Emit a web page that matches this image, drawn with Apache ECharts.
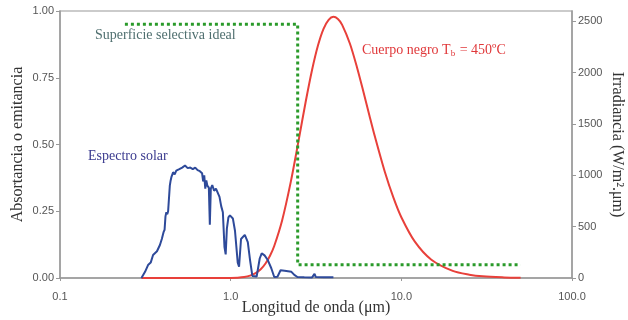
<!DOCTYPE html>
<html>
<head>
<meta charset="utf-8">
<script src="https://cdn.jsdelivr.net/npm/echarts@6/dist/echarts.min.js"></script>
<style>
  html, body { margin: 0; padding: 0; background: #fff; }
  #main { width: 628px; height: 320px; }
</style>
</head>
<body>
<div id="main"></div>
<script>
// selective surface (absortance, left axis)
const selWl = [0.24, 2.47, 2.47, 50];
const selVal = [0.95, 0.95, 0.05, 0.05];

// black body at 450 C (irradiance, right axis)
const bbWl = [0.3, 0.5, 0.8, 1.0, 1.1, 1.2, 1.3, 1.4, 1.5, 1.6, 1.7, 1.8, 2.0, 2.25, 2.5, 2.75, 3.0, 3.25, 3.5, 3.75, 4.0, 4.25, 4.5, 5.0, 5.5, 6.0, 6.5, 7.0, 8.0, 9.0, 10, 12, 15, 20, 25, 30, 40, 50];
const bbVal = [0, 0, 0, 1, 3, 9, 23, 47, 85, 141, 217, 312, 558, 936, 1338, 1714, 2028, 2266, 2427, 2514, 2543, 2522, 2465, 2281, 2050, 1811, 1583, 1377, 1035, 780, 592, 354, 178, 69, 32, 16, 6, 2];

// solar spectrum (irradiance, right axis)
const solarWl = [0.30, 0.315, 0.328, 0.34, 0.351, 0.37, 0.385, 0.395, 0.405, 0.41, 0.415, 0.42, 0.425, 0.43, 0.44, 0.445, 0.45, 0.46, 0.47, 0.48, 0.49, 0.50, 0.52, 0.54, 0.56, 0.58, 0.60, 0.62, 0.64, 0.66, 0.68, 0.69, 0.70, 0.71, 0.72, 0.73, 0.745, 0.755, 0.765, 0.78, 0.80, 0.82, 0.84, 0.86, 0.88, 0.90, 0.92, 0.935, 0.95, 0.97, 0.99, 1.03, 1.06, 1.10, 1.12, 1.15, 1.21, 1.26, 1.30, 1.34, 1.42, 1.48, 1.52, 1.58, 1.65, 1.73, 1.80, 1.88, 1.96, 2.07, 2.27, 2.36, 2.46, 2.7, 3.0, 3.05, 3.1, 3.15, 3.5, 4.0];
const solarVal = [0, 60, 126, 150, 224, 260, 321, 380, 450, 470, 600, 640, 620, 650, 900, 950, 985, 1030, 1010, 1045, 1030, 1060, 1075, 1095, 1070, 1075, 1060, 1075, 1050, 1040, 1020, 940, 1000, 870, 950, 900, 880, 520, 870, 905, 850, 870, 860, 790, 700, 640, 300, 230, 480, 590, 610, 580, 460, 150, 110, 380, 420, 350, 170, 20, 15, 190, 240, 220, 175, 95, 10, 12, 75, 70, 60, 30, 10, 8, 6, 10, 40, 10, 8, 8];

const xTicks = ['0.1', '1.0', '10.0', '100.0'];

const pairs = (xs, ys) => xs.map((x, i) => [x, ys[i]]);

const serif = 'Liberation Serif';
const sans = 'Liberation Sans';

const myChart = echarts.init(document.getElementById('main'));

const option = {
  animation: false,
  grid: {
    left: 60, right: 56, top: 11, bottom: 42,
    outerBoundsMode: 'none',
    show: true, borderColor: '#bbb', borderWidth: 1.5
  },
  xAxis: {
    type: 'log', logBase: 10, min: 0.1, max: 100,
    name: 'Longitud de onda (\u03bcm)',
    nameLocation: 'middle', nameGap: 22, nameMoveOverlap: false,
    nameTextStyle: { fontFamily: serif, fontSize: 16, color: '#333' },
    axisLine: { lineStyle: { color: '#999', width: 1.5 } },
    axisTick: { show: true, length: 3, lineStyle: { color: '#999' } },
    minorTick: { show: false },
    splitLine: { show: false },
    axisLabel: {
      fontFamily: sans, fontSize: 11, color: '#555', margin: 13,
      formatter: (v) => {
        const k = Math.round(Math.log10(v)) + 1;
        return xTicks[k] !== undefined ? xTicks[k] : '';
      }
    }
  },
  yAxis: [
    {
      type: 'value', min: 0, max: 1, interval: 0.25,
      name: 'Absortancia o emitancia',
      nameLocation: 'middle', nameGap: 34, nameMoveOverlap: false,
      nameTextStyle: { fontFamily: serif, fontSize: 16, color: '#333' },
      axisLine: { show: true, onZero: false, lineStyle: { color: '#999', width: 1.5 } },
      axisTick: { show: true, length: 4, lineStyle: { color: '#999' } },
      splitLine: { show: false },
      axisLabel: {
        fontFamily: sans, fontSize: 11, color: '#555', margin: 6,
        formatter: (v) => v.toFixed(2)
      }
    },
    {
      type: 'value', min: 0, max: 2600, interval: 500, position: 'right',
      name: 'Irradiancia (W/m\u00b2.\u03bcm)',
      nameLocation: 'middle', nameGap: 37, nameRotate: -90, nameMoveOverlap: false,
      nameTextStyle: { fontFamily: serif, fontSize: 16, color: '#333' },
      axisLine: { show: true, onZero: false, lineStyle: { color: '#999', width: 1.5 } },
      axisTick: { show: true, length: 4, lineStyle: { color: '#999' } },
      splitLine: { show: false },
      axisLabel: {
        fontFamily: sans, fontSize: 11, color: '#555', margin: 6,
        showMaxLabel: false,
        formatter: (v) => String(v)
      }
    }
  ],
  series: [
    {
      name: 'Cuerpo negro',
      type: 'line',
      yAxisIndex: 1,
      showSymbol: false,
      smooth: 0.3,
      lineStyle: { color: '#e8403a', width: 2 },
      data: pairs(bbWl, bbVal)
    },
    {
      name: 'Espectro solar',
      type: 'line',
      yAxisIndex: 1,
      showSymbol: false,
      lineStyle: { color: '#2e4a9a', width: 2 },
      data: pairs(solarWl, solarVal)
    },
    {
      name: 'Superficie selectiva ideal',
      type: 'line',
      yAxisIndex: 0,
      showSymbol: false,
      lineStyle: { color: '#2a9a2a', width: 3, type: [3, 3] },
      data: pairs(selWl, selVal)
    }
  ],
  graphic: [
    {
      type: 'text', x: 95, y: 35,
      style: {
        text: 'Superficie selectiva ideal',
        fontFamily: serif, fontSize: 14, fill: '#4f6f6f', verticalAlign: 'middle'
      }
    },
    {
      type: 'text', x: 88, y: 156,
      style: {
        text: 'Espectro solar',
        fontFamily: serif, fontSize: 14, fill: '#3b3b8f', verticalAlign: 'middle'
      }
    },
    {
      type: 'text', x: 362, y: 50,
      style: {
        text: 'Cuerpo negro T{s|b} = 450\u00baC',
        fontFamily: serif, fontSize: 14, fill: '#e0383a', verticalAlign: 'middle',
        rich: {
          s: { fontFamily: serif, fontSize: 9, fill: '#e0383a', padding: [7, 1, 0, 0] }
        }
      }
    }
  ]
};

option && myChart.setOption(option);
</script>
</body>
</html>
